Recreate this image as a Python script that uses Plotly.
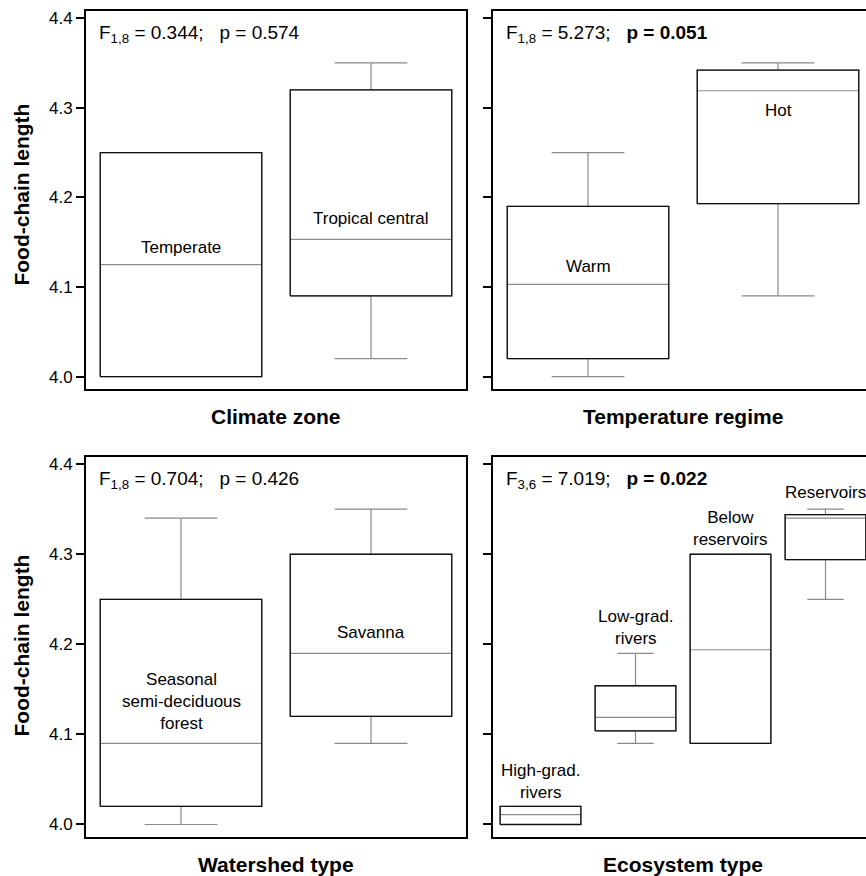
import plotly.graph_objects as go

# ---------------- data ----------------
climate_cats = ["Temperate", "Tropical central"]
climate_lo = [4.00, 4.02]
climate_q1 = [4.00, 4.09]
climate_med = [4.125, 4.153]
climate_q3 = [4.25, 4.32]
climate_hi = [4.25, 4.35]

temp_cats = ["Warm", "Hot"]
temp_lo = [4.00, 4.09]
temp_q1 = [4.02, 4.193]
temp_med = [4.103, 4.319]
temp_q3 = [4.19, 4.342]
temp_hi = [4.25, 4.35]

water_cats = ["Seasonal<br>semi-deciduous<br>forest", "Savanna"]
water_lo = [4.00, 4.09]
water_q1 = [4.02, 4.12]
water_med = [4.09, 4.19]
water_q3 = [4.25, 4.30]
water_hi = [4.34, 4.35]

eco_cats = ["High-grad.<br>rivers", "Low-grad.<br>rivers", "Below<br>reservoirs", "Reservoirs"]
eco_lo = [4.00, 4.09, 4.09, 4.25]
eco_q1 = [4.00, 4.104, 4.09, 4.294]
eco_med = [4.011, 4.119, 4.194, 4.34]
eco_q3 = [4.02, 4.154, 4.30, 4.344]
eco_hi = [4.02, 4.19, 4.30, 4.35]

stat_texts = [
    "F<sub>1,8</sub> = 0.344;&nbsp;&nbsp; p = 0.574",
    "F<sub>1,8</sub> = 5.273;&nbsp;&nbsp; <b>p = 0.051</b>",
    "F<sub>1,8</sub> = 0.704;&nbsp;&nbsp; p = 0.426",
    "F<sub>3,6</sub> = 7.019;&nbsp;&nbsp; <b>p = 0.022</b>",
]
x_titles = ["Climate zone", "Temperature regime", "Watershed type", "Ecosystem type"]
y_title = "Food-chain length"
y_ticks = [4.0, 4.1, 4.2, 4.3, 4.4]

# label anchor heights (y in data units) for category names
climate_label_y = [4.144, 4.176]
temp_label_y = [4.123, 4.297]
water_label_y = [4.137, 4.213]
eco_label_y = [4.048, 4.219, 4.329, 4.369]

# ---------------- layout geometry ----------------
W, H = 866, 876
BOX_W = 0.85
FONT = "Arial, 'Liberation Sans', Helvetica, sans-serif"
panels = [
    dict(cats=climate_cats, lo=climate_lo, q1=climate_q1, med=climate_med, q3=climate_q3, hi=climate_hi,
         ly=climate_label_y, px=(86, 466), py=(9, 388), right=False, unit=190, ytc=193),
    dict(cats=temp_cats, lo=temp_lo, q1=temp_q1, med=temp_med, q3=temp_q3, hi=temp_hi,
         ly=temp_label_y, px=(493, 866), py=(9, 388), right=True, unit=190, ytc=193),
    dict(cats=water_cats, lo=water_lo, q1=water_q1, med=water_med, q3=water_q3, hi=water_hi,
         ly=water_label_y, px=(86, 466), py=(456, 837), right=False, unit=190, ytc=645),
    dict(cats=eco_cats, lo=eco_lo, q1=eco_q1, med=eco_med, q3=eco_q3, hi=eco_hi,
         ly=eco_label_y, px=(493, 866), py=(456, 837), right=True, unit=95, ytc=645),
]

fig = go.Figure()
annotations = []
layout_axes = {}
for i, p in enumerate(panels):
    k = "" if i == 0 else str(i + 1)
    xa, ya = "x" + k, "y" + k
    n = len(p["cats"])
    xs = list(range(n))
    # gray whiskers + median
    fig.add_trace(go.Box(
        x=xs, q1=p["q1"], median=p["med"], q3=p["q3"],
        lowerfence=p["lo"], upperfence=p["hi"],
        width=BOX_W, whiskerwidth=0.45,
        line=dict(color="#8a8a8a", width=1.2), fillcolor="rgba(0,0,0,0)",
        boxpoints=False, hoverinfo="skip", showlegend=False,
        xaxis=xa, yaxis=ya,
    ))
    # black box outline (q1..q3 rectangle)
    rx, ry = [], []
    for j in xs:
        a, b = j - BOX_W / 2, j + BOX_W / 2
        rx += [a, b, b, a, a, None]
        ry += [p["q1"][j], p["q1"][j], p["q3"][j], p["q3"][j], p["q1"][j], None]
    fig.add_trace(go.Scatter(
        x=rx, y=ry, mode="lines", line=dict(color="#111111", width=1.3),
        hoverinfo="skip", showlegend=False, xaxis=xa, yaxis=ya, cliponaxis=True,
    ))
    x0, x1 = p["px"]
    y0, y1 = p["py"]
    xr_hi = -0.5 + (x1 - x0) / p["unit"]
    layout_axes["xaxis" + k] = dict(
        domain=[x0 / W, x1 / W], range=[-0.5, xr_hi], anchor=ya,
        showline=True, linecolor="black", linewidth=2, mirror=True,
        showticklabels=False, ticks="", showgrid=False, zeroline=False, fixedrange=True,
    )
    layout_axes["yaxis" + k] = dict(
        domain=[1 - y1 / H, 1 - y0 / H], range=[3.986, 4.408], anchor=xa,
        showline=True, linecolor="black", linewidth=2, mirror=(not p["right"]),
        tickvals=y_ticks, tickformat=".1f", ticks="outside", ticklen=8, tickwidth=2,
        tickcolor="black", showticklabels=(not p["right"]),
        tickfont=dict(family=FONT, size=17, color="black"),
        showgrid=False, zeroline=False, fixedrange=True,
    )
    # category labels
    for j, c in enumerate(p["cats"]):
        annotations.append(dict(
            x=j, y=p["ly"][j], xref=xa, yref=ya, text=c, showarrow=False,
            xanchor="center", yanchor="middle",
            font=dict(family=FONT, size=17, color="black"),
        ))
    # stat text
    annotations.append(dict(
        x=(x0 + 11) / W, y=1 - (y0 + 23) / H, xref="paper", yref="paper",
        text=stat_texts[i], showarrow=False, xanchor="left", yanchor="middle",
        font=dict(family=FONT, size=19, color="black"),
    ))
    # x title
    cx = (x0 + x0 + 380) / 2
    annotations.append(dict(
        x=cx / W, y=1 - (y1 + 27) / H, xref="paper", yref="paper",
        text="<b>" + x_titles[i] + "</b>", showarrow=False, xanchor="center", yanchor="middle",
        font=dict(family=FONT, size=21, color="black"),
    ))
    if not p["right"]:
        annotations.append(dict(
            x=22 / W, y=1 - p["ytc"] / H, xref="paper", yref="paper",
            text="<b>" + y_title + "</b>", showarrow=False, textangle=-90,
            xanchor="center", yanchor="middle",
            font=dict(family=FONT, size=21, color="black"),
        ))

fig.update_layout(
    width=W, height=H, margin=dict(l=0, r=0, t=0, b=0),
    paper_bgcolor="white", plot_bgcolor="white",
    boxmode="overlay", showlegend=False,
    annotations=annotations, **layout_axes,
)
fig.write_html(
    "out.html",
    config={"displayModeBar": False},
    post_script="document.body.style.margin='0';document.body.style.overflow='hidden';",
)
